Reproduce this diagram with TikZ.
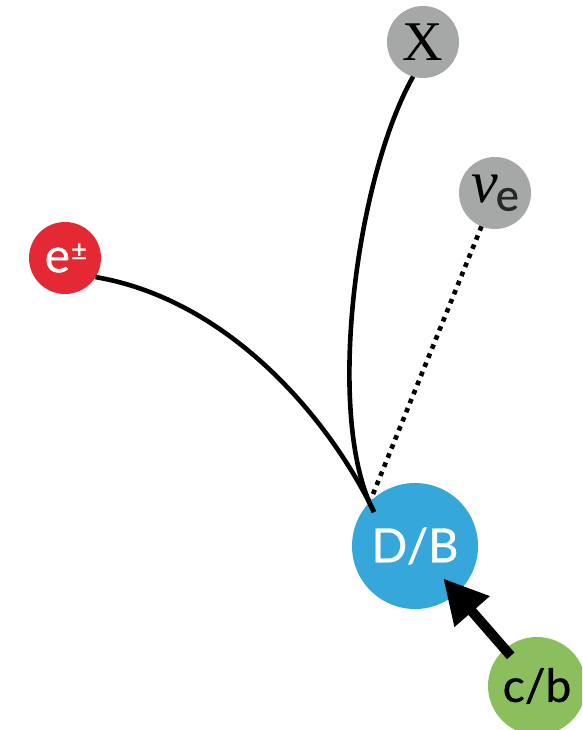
\documentclass[tikz,border=0pt]{standalone}
\usepackage{fontspec}
\setmainfont{Lato}[FakeBold=0.7]
\newfontfamily\serifx{Liberation Serif}
\usetikzlibrary{arrows.meta}
\definecolor{lepred}{HTML}{E52934}
\definecolor{partgray}{HTML}{A5A8A6}
\definecolor{hadblue}{HTML}{35A7DB}
\definecolor{quarkgreen}{HTML}{8BBF5E}
\tikzset{
  particle/.style={circle, fill=#1, inner sep=0pt, outer sep=0pt},
  track/.style={line width=4.6pt},
  neutrino/.style={line width=4.6pt, dash pattern=on 4.6pt off 5.2pt},
}
\begin{document}
\begin{tikzpicture}[x=1pt, y=-1pt]
  \useasboundingbox (0,0) rectangle (582,730);
  \clip (0,0) rectangle (582,730);

  % hadron and initial quark
  \node[particle=hadblue, minimum size=126pt] (db) at (415,546)
    {\fontsize{47}{47}\selectfont\color{white}D/B};
  \node[particle=quarkgreen, minimum size=98pt] (cb) at (537,686)
    {\fontsize{46}{46}\selectfont c/b};

  % decay products
  \node[particle=lepred, minimum size=72pt] (e) at (65,258)
    {\fontsize{48}{48}\selectfont\color{white}\kern2pt e\kern1pt\raisebox{12pt}{\fontsize{28}{28}\selectfont ±}};
  \node[particle=partgray, minimum size=72pt] (x) at (423,42)
    {\fontsize{56}{56}\selectfont\serifx X};
  \node[particle=partgray, minimum size=72pt] (nu) at (495,193)
    {\fontsize{60}{60}\selectfont\serifx\itshape ν\kern-2pt\raisebox{-8pt}{\fontsize{44}{44}\selectfont\normalfont\rmfamily\color{black!85}e}};

  % common vertex inside the hadron
  \coordinate (vtx) at (374,512);
  \coordinate (vtxnu) at (371,499);

  % tracks
  \draw[track] (e.-32) .. controls (230,300) and (330,420) .. (vtx);
  \draw[track] (x.-106) .. controls (355,180) and (325,420) .. (vtx);
  \draw[neutrino] (nu.-112) -- (vtxnu);

  % hadronisation arrow
  \draw[line width=10pt, -{Triangle[length=44pt, width=44pt]},
        shorten <=40pt, shorten >=43pt] (cb.center) -- (db.center);
\end{tikzpicture}
\end{document}
